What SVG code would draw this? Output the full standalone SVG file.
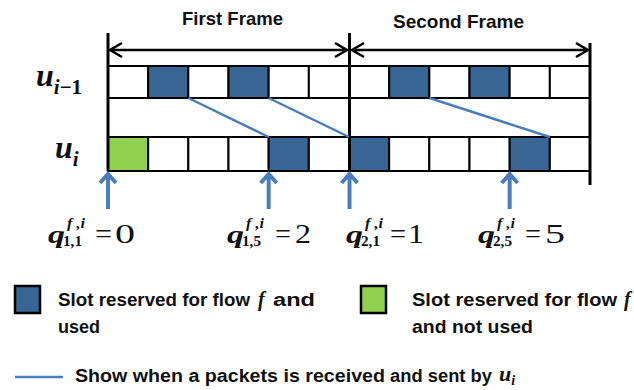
<svg xmlns="http://www.w3.org/2000/svg" width="634" height="390" viewBox="0 0 634 390">
<style>
.lbl{font-family:"Liberation Sans",Arial,sans-serif;font-weight:bold;fill:#111}
.math{font-family:"Liberation Serif","Times New Roman",serif;fill:#111}
.mi{font-style:italic;font-weight:bold}
.cell{fill:#fff;stroke:#000;stroke-width:2}
.used{fill:#386594}
.unused{fill:#92d050}
.frame{fill:none;stroke:#000;stroke-width:2.5}
.vbar{fill:none;stroke:#000;stroke-width:3}
.tx{fill:none;stroke:#4a7ebb;stroke-width:2.5}
.up{fill:none;stroke:#4a7ebb;stroke-width:4}
</style>
<rect width="634" height="390" fill="#fff"/>
<g id="frame-labels">
<text class="lbl" x="182" y="25" font-size="19" textLength="101" lengthAdjust="spacingAndGlyphs">First Frame</text>
<text class="lbl" x="393" y="28" font-size="19" textLength="131" lengthAdjust="spacingAndGlyphs">Second Frame</text>
</g>
<g id="row-labels">
<text class="math mi" x="36" y="86" font-size="32">u<tspan font-size="21" dy="8">i</tspan><tspan font-size="21" font-style="normal">−1</tspan></text>
<text class="math mi" x="55" y="158" font-size="32">u<tspan font-size="21" dy="8">i</tspan></text>
</g>
<g id="row-ui-1">
<rect class="cell" x="108" y="66" width="40.17" height="32"/>
<rect class="cell used" x="148.17" y="66" width="40.17" height="32"/>
<rect class="cell" x="188.33" y="66" width="40.17" height="32"/>
<rect class="cell used" x="228.5" y="66" width="40.17" height="32"/>
<rect class="cell" x="268.67" y="66" width="40.17" height="32"/>
<rect class="cell" x="308.83" y="66" width="40.17" height="32"/>
<rect class="cell" x="349" y="66" width="40.17" height="32"/>
<rect class="cell used" x="389.17" y="66" width="40.17" height="32"/>
<rect class="cell" x="429.33" y="66" width="40.17" height="32"/>
<rect class="cell used" x="469.5" y="66" width="40.17" height="32"/>
<rect class="cell" x="509.67" y="66" width="40.17" height="32"/>
<rect class="cell" x="549.83" y="66" width="40.17" height="32"/>
</g>
<g id="band">
<rect class="cell" x="108" y="98" width="482" height="39"/>
</g>
<g id="row-ui">
<rect class="cell unused" x="108" y="137" width="40.17" height="34"/>
<rect class="cell" x="148.17" y="137" width="40.17" height="34"/>
<rect class="cell" x="188.33" y="137" width="40.17" height="34"/>
<rect class="cell" x="228.5" y="137" width="40.17" height="34"/>
<rect class="cell used" x="268.67" y="137" width="40.17" height="34"/>
<rect class="cell" x="308.83" y="137" width="40.17" height="34"/>
<rect class="cell used" x="349" y="137" width="40.17" height="34"/>
<rect class="cell" x="389.17" y="137" width="40.17" height="34"/>
<rect class="cell" x="429.33" y="137" width="40.17" height="34"/>
<rect class="cell" x="469.5" y="137" width="40.17" height="34"/>
<rect class="cell used" x="509.67" y="137" width="40.17" height="34"/>
<rect class="cell" x="549.83" y="137" width="40.17" height="34"/>
</g>
<g id="connectors">
<path class="vbar" d="M108,33 V171 M349.5,33 V171 M590,43 V185"/>
<path class="frame" d="M110,50 H347 M122,43 L110,50 L122,57 M335,43 L347,50 L335,57"/>
<path class="frame" d="M352,50 H588 M364,43 L352,50 L364,57 M576,43 L588,50 L576,57"/>
<path class="tx" d="M188.33,98 L268.67,137 M268.67,98 L349,137 M429.33,98 L549.83,137"/>
<path class="up" d="M108,174 V209 M100,183 L108,174 L116,183"/>
<path class="up" d="M268.67,174 V209 M260.67,183 L268.67,174 L276.67,183"/>
<path class="up" d="M349.5,174 V209 M341.5,183 L349.5,174 L357.5,183"/>
<path class="up" d="M509.67,174 V209 M501.67,183 L509.67,174 L517.67,183"/>
</g>
<g id="q11">
<text class="math mi" x="48" y="243" font-size="26" textLength="17" lengthAdjust="spacingAndGlyphs">q</text>
<text class="math mi" x="67" y="228" font-size="14" textLength="18" lengthAdjust="spacingAndGlyphs">f ,i</text>
<text class="math" x="63" y="246" font-size="14" font-weight="bold" textLength="19" lengthAdjust="spacingAndGlyphs">1,1</text>
<text class="math" x="95" y="243" font-size="27" textLength="17" lengthAdjust="spacingAndGlyphs">=</text>
<text class="math" x="115" y="243" font-size="27" textLength="20" lengthAdjust="spacingAndGlyphs">0</text>
</g>
<g id="q15">
<text class="math mi" x="227" y="243" font-size="26" textLength="17" lengthAdjust="spacingAndGlyphs">q</text>
<text class="math mi" x="246" y="228" font-size="14" textLength="18" lengthAdjust="spacingAndGlyphs">f ,i</text>
<text class="math" x="242" y="246" font-size="14" font-weight="bold" textLength="19" lengthAdjust="spacingAndGlyphs">1,5</text>
<text class="math" x="275" y="243" font-size="27" textLength="16" lengthAdjust="spacingAndGlyphs">=</text>
<text class="math" x="295" y="243" font-size="27" textLength="16" lengthAdjust="spacingAndGlyphs">2</text>
</g>
<g id="q21">
<text class="math mi" x="346" y="243" font-size="26" textLength="17" lengthAdjust="spacingAndGlyphs">q</text>
<text class="math mi" x="365" y="228" font-size="14" textLength="18" lengthAdjust="spacingAndGlyphs">f ,i</text>
<text class="math" x="361" y="246" font-size="14" font-weight="bold" textLength="19" lengthAdjust="spacingAndGlyphs">2,1</text>
<text class="math" x="390" y="243" font-size="27" textLength="16" lengthAdjust="spacingAndGlyphs">=</text>
<text class="math" x="408" y="243" font-size="27" textLength="16" lengthAdjust="spacingAndGlyphs">1</text>
</g>
<g id="q25">
<text class="math mi" x="478" y="243" font-size="26" textLength="17" lengthAdjust="spacingAndGlyphs">q</text>
<text class="math mi" x="497" y="228" font-size="14" textLength="18" lengthAdjust="spacingAndGlyphs">f ,i</text>
<text class="math" x="493" y="246" font-size="14" font-weight="bold" textLength="19" lengthAdjust="spacingAndGlyphs">2,5</text>
<text class="math" x="525" y="243" font-size="27" textLength="16" lengthAdjust="spacingAndGlyphs">=</text>
<text class="math" x="545" y="243" font-size="27" textLength="20" lengthAdjust="spacingAndGlyphs">5</text>
</g>
<g id="legend-used">
<rect x="15" y="286" width="25" height="27" fill="#386594" stroke="#000" stroke-width="2.5"/>
<text class="lbl" x="58" y="306" font-size="18" textLength="192" lengthAdjust="spacingAndGlyphs">Slot reserved for flow</text>
<text class="math mi" x="258" y="306" font-size="20">f</text>
<text class="lbl" x="273" y="306" font-size="18" textLength="42" lengthAdjust="spacingAndGlyphs">and</text>
<text class="lbl" x="58" y="333" font-size="18" textLength="42" lengthAdjust="spacingAndGlyphs">used</text>
</g>
<g id="legend-unused">
<rect x="361" y="286" width="25" height="27" fill="#92d050" stroke="#000" stroke-width="2.5"/>
<text class="lbl" x="412" y="306" font-size="18" textLength="205" lengthAdjust="spacingAndGlyphs">Slot reserved for flow</text>
<text class="math mi" x="624" y="306" font-size="20">f</text>
<text class="lbl" x="412" y="333" font-size="18" textLength="121" lengthAdjust="spacingAndGlyphs">and not used</text>
</g>
<g id="legend-line">
<path d="M15,377 H63" stroke="#4a7ebb" stroke-width="2.5"/>
<text class="lbl" x="75" y="382" font-size="18" textLength="310" lengthAdjust="spacingAndGlyphs">Show when a packets is received</text>
<text class="lbl" x="390" y="382" font-size="18" textLength="102" lengthAdjust="spacingAndGlyphs">and sent by</text>
<text class="math mi" x="499" y="381" font-size="22">u<tspan font-size="14" dy="4">i</tspan></text>
</g>
</svg>
